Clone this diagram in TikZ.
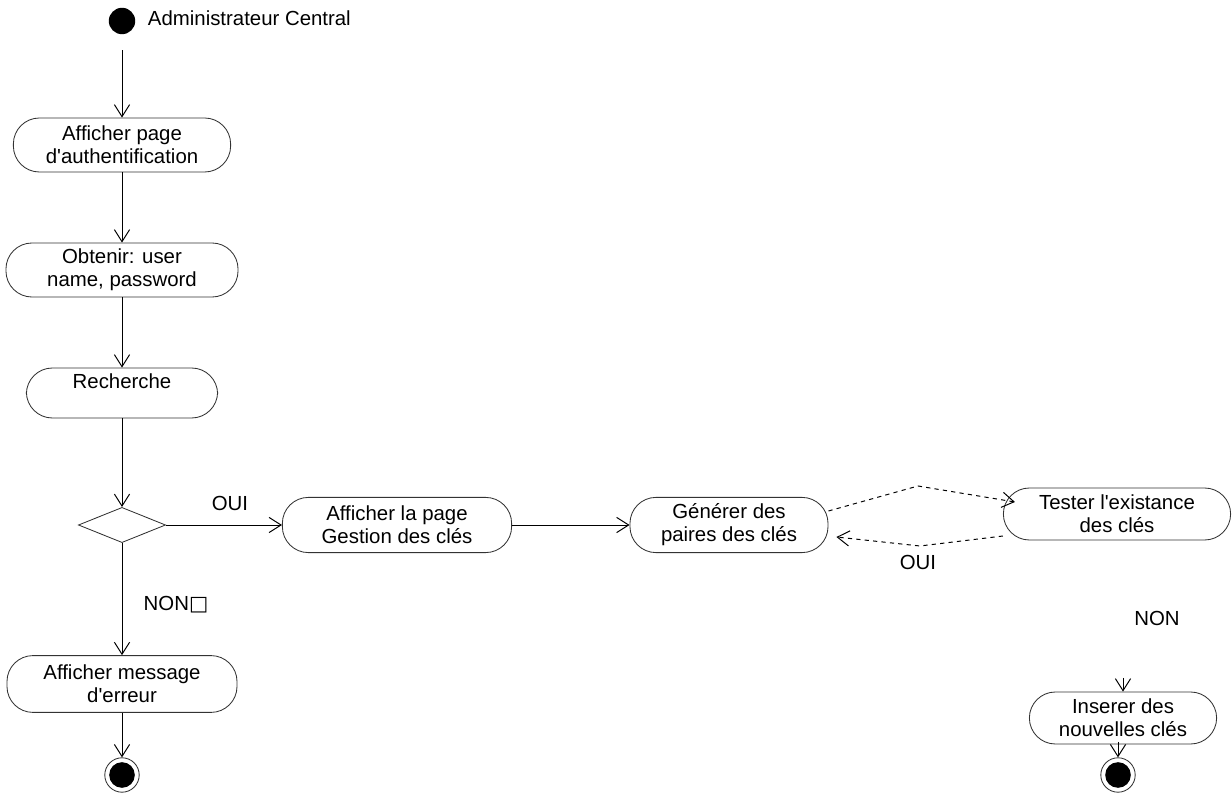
\documentclass[tikz,border=0pt]{standalone}
\usepackage{fontspec}
\setmainfont{Liberation Sans}
\newfontfamily\squarefont{DejaVu Sans}
\usetikzlibrary{shapes,arrows.meta,calc}

\begin{document}
\begin{tikzpicture}[x=0.025cm,y=-0.025cm,font=\fontsize{14.5}{16.5}\selectfont]
    \tikzstyle{edge}  = [line width=0.7pt,draw=black]
    \tikzstyle{dedge} = [line width=0.7pt,-{Straight Barb[length=3mm,width=3.8mm]},draw=black]
    \tikzstyle{activity}=[
      rectangle,
      rounded corners=6.5mm,
      draw=black!80,
      line width=0.6pt,
      align=center,
      anchor=center,
      inner sep=0pt,
    ]
    \tikzstyle{decision}=[diamond,draw=black!80,line width=0.6pt,
      minimum width=2.18cm,minimum height=0.88cm,inner sep=0pt]
    \tikzstyle{start}=[circle,fill=black,minimum size=0.66cm,inner sep=0pt]
    \tikzstyle{stop}=[circle,draw=black!80,line width=0.6pt,minimum size=0.86cm,inner sep=0pt,
      path picture={\fill[black] (path picture bounding box.center) circle (0.32cm);}]

    \useasboundingbox (0,0) rectangle (1232,799);

    \node[start] (init) at (122,21) {};
    \node[anchor=west] (actor) at (143,18) {Administrateur Central};
    \node[activity,minimum width=5.43cm,minimum height=1.35cm] (auth) at (122,145)
      {Afficher page\\d\textquotesingle authentification};
    \node[activity,minimum width=5.8cm,minimum height=1.35cm] (login) at (122,270)
      {Obtenir: user\\name, password};
    \node[activity,minimum width=4.78cm,minimum height=1.25cm] (search) at (122,393)
      {Recherche\\~};
    \node[decision] (choice) at (122,525) {};
    \node[activity,minimum width=5.73cm,minimum height=1.38cm] (keypage) at (397,525)
      {Afficher la page\\Gestion des clés};
    \node[activity,minimum width=4.95cm,minimum height=1.38cm] (keygen) at (729,525)
      {Générer des\\paires des clés};
    \node[activity,minimum width=5.68cm,minimum height=1.3cm] (keytest) at (1117,514)
      {Tester l\textquotesingle existance\\des clés};
    \node[activity,minimum width=4.68cm,minimum height=1.3cm] (keyins) at (1123,718)
      {Inserer des\\nouvelles clés};
    \node[activity,minimum width=5.75cm,minimum height=1.42cm] (error) at (122,684)
      {Afficher message\\d\textquotesingle erreur};
    \node[stop] (endleft) at (122,775) {};
    \node[stop] (endright) at (1118,775) {};

    % guard labels
    \node (oui_a) at (230,503) {OUI};
    \node (non_a) at (176,605) {NON{\squarefont □}};
    \node (oui_b) at (918,562) {OUI};
    \node (non_b) at (1157,618) {NON};

    % main flow
    \draw[dedge,shorten <=4mm] (init) -- (auth);
    \draw[dedge] (auth) -- (login);
    \draw[dedge] (login) -- (search);
    \draw[dedge] (search) -- (choice);
    \draw[dedge] (choice) -- (error);
    \draw[dedge] (error) -- (endleft);

    % choice -> key pages
    \draw[dedge] (choice.east) -- (keypage.west);
    \draw[dedge] (keypage.east) -- (keygen.west);

    % keygen <-> keytest
    \coordinate (bendup) at (918,486);
    \coordinate (benddown) at (920,546);
    \draw[dedge,dashed] ([yshift=3.5mm]keygen.east)
               --(bendup)
               --([xshift=3mm,yshift=3mm]keytest.west);
    \draw[dedge,dashed] ([yshift=-5.5mm]keytest.west)
               --(benddown)
               --([xshift=2mm,yshift=-3mm]keygen.east);

    % keytest -> keyins -> end
    \coordinate (insup) at (1123,678);
    \draw[dedge] (insup) -- (keyins.north);
    \coordinate (endup) at (1118,742);
    \draw[dedge] (endup) -- (endright.north);
\end{tikzpicture}
\end{document}
